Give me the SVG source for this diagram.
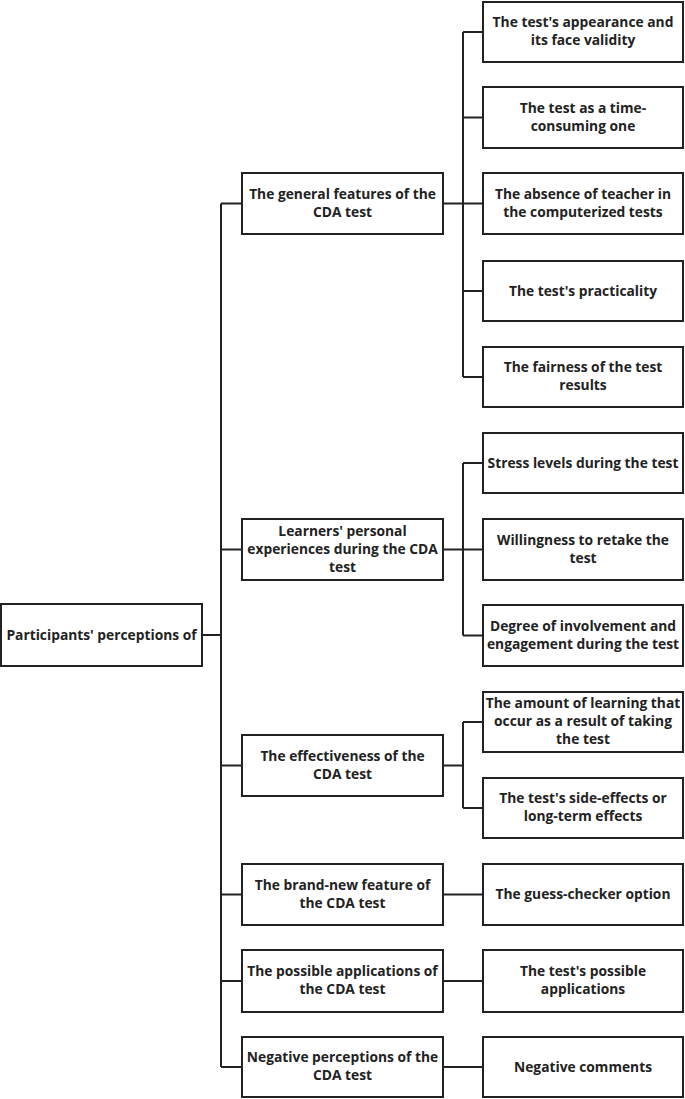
<svg xmlns="http://www.w3.org/2000/svg" width="685" height="1099" viewBox="0 0 685 1099">
<style>
.box{fill:#fff;stroke:#222;stroke-width:2}
.t{font-family:"Open Sans","Liberation Sans",sans-serif;font-weight:700;font-size:15px;fill:#222;text-anchor:middle}
.c{fill:none;stroke:#222;stroke-width:2}
</style>
<rect width="685" height="1099" fill="#fff"/>
<g id="connectors" class="c">
<path d="M202 635H221M221 203.5V1067M221 203.5H242M221 549.5H242M221 765.5H242M221 894.5H242M221 981H242M221 1067H242"/>
<path d="M443 203.5H463M463 32V377M463 32H483M463 117.5H483M463 203.5H483M463 291H483M463 377H483"/>
<path d="M443 549.5H463M463 463V635.5M463 463H483M463 549.5H483M463 635.5H483"/>
<path d="M443 765.5H463M463 722V808M463 722H483M463 808H483"/>
<path d="M443 894.5H483M443 981H483M443 1067H483"/>
</g>
<g id="root"><rect class="box" x="1" y="604" width="201" height="62"/><text class="t" transform="translate(101.5 0) scale(0.92 1)" x="0" y="640">Participants' perceptions of</text></g>
<g id="m1"><rect class="box" x="242" y="173" width="201" height="61"/><text class="t" transform="translate(342.5 0) scale(0.92 1)"><tspan x="0" y="199">The general features of the</tspan><tspan x="0" y="217">CDA test</tspan></text></g>
<g id="m2"><rect class="box" x="242" y="519" width="201" height="61"/><text class="t" transform="translate(342.5 0) scale(0.92 1)"><tspan x="0" y="536">Learners' personal</tspan><tspan x="0" y="554">experiences during the CDA</tspan><tspan x="0" y="572">test</tspan></text></g>
<g id="m3"><rect class="box" x="242" y="735" width="201" height="61"/><text class="t" transform="translate(342.5 0) scale(0.92 1)"><tspan x="0" y="761">The effectiveness of the</tspan><tspan x="0" y="779">CDA test</tspan></text></g>
<g id="m4"><rect class="box" x="242" y="864" width="201" height="61"/><text class="t" transform="translate(342.5 0) scale(0.92 1)"><tspan x="0" y="890">The brand-new feature of</tspan><tspan x="0" y="908">the CDA test</tspan></text></g>
<g id="m5"><rect class="box" x="242" y="950" width="201" height="62"/><text class="t" transform="translate(342.5 0) scale(0.92 1)"><tspan x="0" y="976.5">The possible applications of</tspan><tspan x="0" y="994.5">the CDA test</tspan></text></g>
<g id="m6"><rect class="box" x="242" y="1037" width="201" height="60"/><text class="t" transform="translate(342.5 0) scale(0.92 1)"><tspan x="0" y="1062.5">Negative perceptions of the</tspan><tspan x="0" y="1080.5">CDA test</tspan></text></g>
<g id="l1"><rect class="box" x="483" y="2" width="200" height="60"/><text class="t" transform="translate(583 0) scale(0.92 1)"><tspan x="0" y="27.5">The test's appearance and</tspan><tspan x="0" y="45.5">its face validity</tspan></text></g>
<g id="l2"><rect class="box" x="483" y="87" width="200" height="61"/><text class="t" transform="translate(583 0) scale(0.92 1)"><tspan x="0" y="113">The test as a time-</tspan><tspan x="0" y="131">consuming one</tspan></text></g>
<g id="l3"><rect class="box" x="483" y="173" width="200" height="61"/><text class="t" transform="translate(583 0) scale(0.92 1)"><tspan x="0" y="199">The absence of teacher in</tspan><tspan x="0" y="217">the computerized tests</tspan></text></g>
<g id="l4"><rect class="box" x="483" y="261" width="200" height="60"/><text class="t" transform="translate(583 0) scale(0.92 1)" x="0" y="296">The test's practicality</text></g>
<g id="l5"><rect class="box" x="483" y="347" width="200" height="60"/><text class="t" transform="translate(583 0) scale(0.92 1)"><tspan x="0" y="372.5">The fairness of the test</tspan><tspan x="0" y="390.5">results</tspan></text></g>
<g id="l6"><rect class="box" x="483" y="433" width="200" height="60"/><text class="t" transform="translate(583 0) scale(0.92 1)" x="0" y="468">Stress levels during the test</text></g>
<g id="l7"><rect class="box" x="483" y="519" width="200" height="61"/><text class="t" transform="translate(583 0) scale(0.92 1)"><tspan x="0" y="545">Willingness to retake the</tspan><tspan x="0" y="563">test</tspan></text></g>
<g id="l8"><rect class="box" x="483" y="605" width="200" height="61"/><text class="t" transform="translate(583 0) scale(0.92 1)"><tspan x="0" y="631">Degree of involvement and</tspan><tspan x="0" y="649">engagement during the test</tspan></text></g>
<g id="l9"><rect class="box" x="483" y="692" width="200" height="60"/><text class="t" transform="translate(583 0) scale(0.92 1)"><tspan x="0" y="708.5">The amount of learning that</tspan><tspan x="0" y="726.5">occur as a result of taking</tspan><tspan x="0" y="744.5">the test</tspan></text></g>
<g id="l10"><rect class="box" x="483" y="778" width="200" height="60"/><text class="t" transform="translate(583 0) scale(0.92 1)"><tspan x="0" y="803.5">The test's side-effects or</tspan><tspan x="0" y="821.5">long-term effects</tspan></text></g>
<g id="l11"><rect class="box" x="483" y="864" width="200" height="61"/><text class="t" transform="translate(583 0) scale(0.92 1)" x="0" y="899.5">The guess-checker option</text></g>
<g id="l12"><rect class="box" x="483" y="950" width="200" height="62"/><text class="t" transform="translate(583 0) scale(0.92 1)"><tspan x="0" y="976.5">The test's possible</tspan><tspan x="0" y="994.5">applications</tspan></text></g>
<g id="l13"><rect class="box" x="483" y="1037" width="200" height="60"/><text class="t" transform="translate(583 0) scale(0.92 1)" x="0" y="1072">Negative comments</text></g>
</svg>
